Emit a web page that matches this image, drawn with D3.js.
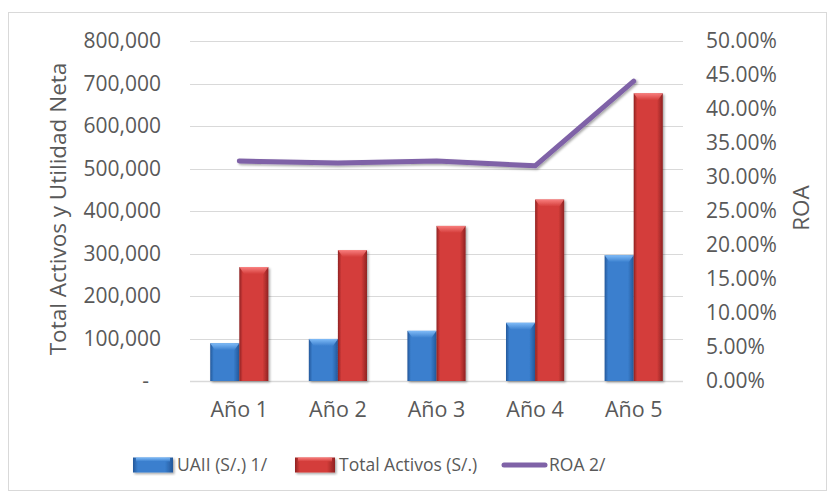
<!DOCTYPE html>
<html>
<head>
<meta charset="utf-8">
<script src="https://cdn.jsdelivr.net/npm/d3@7"></script>
<style>
  body { margin: 0; background: #fff; }
  text { font-family: "Open Sans", "Liberation Sans", sans-serif; fill: #595959; }
</style>
</head>
<body>
<div id="chart"></div>
<script>
// data
var years = ["Año 1", "Año 2", "Año 3", "Año 4", "Año 5"];
var uaii = [89000, 99000, 118000, 137000, 296000];
var activos = [268000, 308000, 365000, 427000, 677000];
var roa = [0.3235, 0.3206, 0.3235, 0.3165, 0.4410];
var leftTicks = [0, 100000, 200000, 300000, 400000, 500000, 600000, 700000, 800000];
var rightTicks = [0, 0.05, 0.10, 0.15, 0.20, 0.25, 0.30, 0.35, 0.40, 0.45, 0.50];

var width = 834, height = 495;
var m = {left: 190, right: 151, top: 41, bottom: 114};

var svg = d3.select("#chart").append("svg")
  .attr("width", width)
  .attr("height", height);

var defs = svg.append("defs");
function barGrad(id, mid, dark) {
  var g = defs.append("linearGradient").attr("id", id)
    .attr("x1", "0").attr("x2", "1").attr("y1", "0").attr("y2", "0");
  g.append("stop").attr("offset", "0%").attr("stop-color", dark);
  g.append("stop").attr("offset", "12%").attr("stop-color", mid);
  g.append("stop").attr("offset", "80%").attr("stop-color", mid);
  g.append("stop").attr("offset", "100%").attr("stop-color", dark);
}
barGrad("gBlue", "#3a7fce", "#24589a");
barGrad("gRed", "#d43d3a", "#8f2222");
function capGrad(id, light, base) {
  var g = defs.append("linearGradient").attr("id", id)
    .attr("x1", "0").attr("x2", "0").attr("y1", "0").attr("y2", "1");
  g.append("stop").attr("offset", "0%").attr("stop-color", light);
  g.append("stop").attr("offset", "100%").attr("stop-color", base);
}
capGrad("cBlue", "#8cc6ff", "#3a7fce");
capGrad("cRed", "#ff8a8a", "#d43d3a");
var sh = defs.append("filter").attr("id", "shadow")
  .attr("x", "-20%").attr("y", "-20%").attr("width", "140%").attr("height", "140%");
sh.append("feDropShadow").attr("dx", 1.5).attr("dy", 1.5).attr("stdDeviation", 1.2)
  .attr("flood-color", "#000").attr("flood-opacity", 0.35);

// outer frame
svg.append("rect")
  .attr("x", 8.5).attr("y", 12.5)
  .attr("width", 818).attr("height", 478)
  .attr("fill", "none").attr("stroke", "#d9d9d9").attr("stroke-width", 1);

var x = d3.scaleBand().domain(years)
  .range([m.left, width - m.right]).paddingInner(0.41).paddingOuter(0.205);
var xs = d3.scaleBand().domain(["uaii", "activos"]).range([0, x.bandwidth()]);
var y = d3.scaleLinear().domain([0, 800000]).range([height - m.bottom, m.top]);
var y2 = d3.scaleLinear().domain([0, 0.5]).range([height - m.bottom, m.top]);

// gridlines
svg.append("g").selectAll("line").data(leftTicks.slice(1)).enter().append("line")
  .attr("x1", m.left).attr("x2", width - m.right)
  .attr("y1", function(d) { return Math.round(y(d)) + 0.5; })
  .attr("y2", function(d) { return Math.round(y(d)) + 0.5; })
  .attr("stroke", "#d9d9d9").attr("stroke-width", 1);

// axes
var fmt = d3.format(",");
var yAxis = svg.append("g")
  .attr("transform", "translate(" + (m.left - 26) + ",0)")
  .call(d3.axisLeft(y).tickValues(leftTicks).tickSize(0)
    .tickFormat(function(d) { return d === 0 ? "-" : fmt(d); }));
yAxis.selectAll(".tick text").filter(function(d) { return d === 0; }).attr("dx", -12);
var y2Axis = svg.append("g")
  .attr("transform", "translate(" + (width - m.right + 20) + ",0)")
  .call(d3.axisRight(y2).tickValues(rightTicks).tickSize(0)
    .tickFormat(d3.format(".2%")));
var xAxis = svg.append("g")
  .attr("transform", "translate(0," + (height - m.bottom) + ")")
  .call(d3.axisBottom(x).tickSize(0).tickPadding(21));
[yAxis, y2Axis, xAxis].forEach(function(a) {
  a.select(".domain").remove();
  a.selectAll("text").style("font-size", "21px").attr("fill", "#595959")
    .style("font-family", "'Open Sans', 'Liberation Sans', sans-serif");
});
xAxis.selectAll("text").style("font-size", "21.5px");
svg.append("line")
  .attr("x1", m.left).attr("x2", width - m.right)
  .attr("y1", height - m.bottom + 0.5).attr("y2", height - m.bottom + 0.5)
  .attr("stroke", "#d9d9d9").attr("stroke-width", 1.5);

// bars
var series = [
  {key: "uaii", values: uaii, fill: "url(#gBlue)", cap: "url(#cBlue)"},
  {key: "activos", values: activos, fill: "url(#gRed)", cap: "url(#cRed)"}
];
series.forEach(function(s) {
  var g = svg.append("g").attr("filter", "url(#shadow)");
  g.selectAll("rect.bar").data(s.values).enter().append("rect")
    .attr("class", "bar")
    .attr("x", function(d, i) { return x(years[i]) + xs(s.key); })
    .attr("width", xs.bandwidth())
    .attr("y", function(d) { return y(d); })
    .attr("height", function(d) { return y(0) - y(d); })
    .attr("fill", s.fill);
  g.selectAll("path.cap").data(s.values).enter().append("path")
    .attr("class", "cap")
    .attr("d", function(d, i) {
      var x0 = x(years[i]) + xs(s.key), w = xs.bandwidth(), t = y(d);
      return "M" + x0 + "," + t + "L" + (x0 + w) + "," + t +
        "L" + (x0 + w - 5) + "," + (t + 7) + "L" + (x0 + 5) + "," + (t + 7) + "Z";
    })
    .attr("fill", s.cap).attr("opacity", 0.85);
});

// ROA line
var line = d3.line()
  .x(function(d, i) { return x(years[i]) + x.bandwidth() / 2; })
  .y(function(d) { return y2(d); });
svg.append("path").datum(roa)
  .attr("d", line)
  .attr("fill", "none").attr("stroke", "#7f62a7").attr("stroke-width", 5)
  .attr("stroke-linecap", "round").attr("stroke-linejoin", "round")
  .attr("filter", "url(#shadow)");

// axis titles
svg.append("text")
  .attr("transform", "translate(58," + ((m.top + height - m.bottom) / 2 - 2) + ") rotate(-90)")
  .attr("text-anchor", "middle").attr("dy", "0.35em")
  .style("font-size", "22.5px")
  .text("Total Activos y Utilidad Neta");
svg.append("text")
  .attr("transform", "translate(801,208) rotate(-90)")
  .attr("text-anchor", "middle").attr("dy", "0.35em")
  .style("font-size", "22.5px")
  .text("ROA");

// legend
var legend = [
  {label: "UAII (S/.) 1/", x: 133, type: "bar", fill: "url(#gBlue)", cap: "url(#cBlue)"},
  {label: "Total Activos (S/.)", x: 295, type: "bar", fill: "url(#gRed)", cap: "url(#cRed)"},
  {label: "ROA 2/", x: 502, type: "line"}
];
var ly = 465;
legend.forEach(function(l) {
  if (l.type === "bar") {
    svg.append("rect").attr("x", l.x).attr("y", ly - 7.5).attr("width", 40).attr("height", 15)
      .attr("fill", l.fill).attr("filter", "url(#shadow)");
    svg.append("rect").attr("x", l.x + 3).attr("y", ly - 7.5).attr("width", 34).attr("height", 4)
      .attr("fill", l.cap).attr("opacity", 0.85);
  } else {
    svg.append("line").attr("x1", l.x + 2).attr("x2", l.x + 43)
      .attr("y1", ly).attr("y2", ly)
      .attr("stroke", "#7f62a7").attr("stroke-width", 5).attr("stroke-linecap", "round");
  }
  svg.append("text").attr("x", l.x + (l.type === "bar" ? 44 : 47)).attr("y", ly)
    .attr("dy", "0.35em").style("font-size", "17.5px").text(l.label);
});
</script>
</body>
</html>
